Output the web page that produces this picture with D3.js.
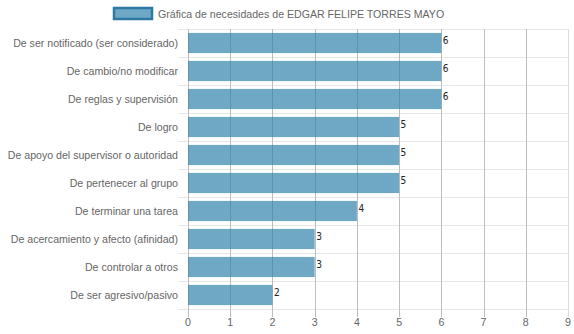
<!DOCTYPE html>
<html><head><meta charset="utf-8">
<script src="https://cdn.jsdelivr.net/npm/d3@7"></script>
<style>body{margin:0;background:#fff}svg{display:block}text{font-family:"Liberation Sans",Arial,sans-serif}</style>
</head><body>
<svg id="c" width="574" height="334"></svg>
<script>
const categories = ["De ser notificado (ser considerado)","De cambio/no modificar","De reglas y supervisión","De logro","De apoyo del supervisor o autoridad","De pertenecer al grupo","De terminar una tarea","De acercamiento y afecto (afinidad)","De controlar a otros","De ser agresivo/pasivo"];
const values = [6,6,6,5,5,5,4,3,3,2];
const xTicks = [0,1,2,3,4,5,6,7,8,9];
const seriesName = "Gráfica de necesidades de EDGAR FELIPE TORRES MAYO";

const svg = d3.select("#c");
const L = 188, R = 568, T = 29, B = 309;
const FS = 10.6;
const x = d3.scaleLinear().domain([0,9]).range([L,R]);
const y = d3.scaleBand().domain(categories).range([T,B]).paddingInner(0).paddingOuter(0);
const barH = y.bandwidth()*0.72;

// horizontal grid lines (category boundaries)
const bounds = categories.map(c=>y(c)).concat([B]);
svg.append("g").selectAll("line").data(bounds).join("line")
  .attr("x1",L-10).attr("x2",R).attr("y1",d=>Math.round(d)+0.5).attr("y2",d=>Math.round(d)+0.5)
  .attr("stroke","#e6e6e6").attr("stroke-width",1);

// vertical grid lines
svg.append("g").selectAll("line").data(xTicks).join("line")
  .attr("x1",d=>Math.round(x(d))+0.5).attr("x2",d=>Math.round(x(d))+0.5)
  .attr("y1",T).attr("y2",B+8)
  .attr("stroke",d=>d===9?"#dcdcdc":"#bdbdbd").attr("stroke-width",1);

// bars
svg.append("g").selectAll("rect").data(values).join("rect")
  .attr("x",x(0)).attr("y",(d,i)=>y(categories[i])+(y.bandwidth()-barH)/2)
  .attr("width",d=>x(d)-x(0)).attr("height",barH)
  .attr("fill","rgba(48,131,171,0.7)");

// value labels
svg.append("g").selectAll("text").data(values).join("text")
  .attr("x",d=>x(d)+1.5).attr("y",(d,i)=>y(categories[i])+y.bandwidth()/2-2)
  .attr("dominant-baseline","middle").attr("font-size",10).attr("fill","#222")
  .style("font-family","'DejaVu Sans Condensed','DejaVu Sans',sans-serif")
  .text(d=>d);

// y labels
svg.append("g").selectAll("text").data(categories).join("text")
  .attr("x",L-10).attr("y",d=>y(d)+y.bandwidth()/2)
  .attr("text-anchor","end").attr("dominant-baseline","central")
  .attr("font-size",FS).attr("fill","#666").text(d=>d);

// x labels
svg.append("g").selectAll("text").data(xTicks).join("text")
  .attr("x",d=>x(d)).attr("y",B+13).attr("text-anchor","middle").attr("dominant-baseline","central")
  .attr("font-size",FS).attr("fill","#666").text(d=>d);

// legend
svg.append("rect").attr("x",114).attr("y",8).attr("width",38).attr("height",11)
  .attr("fill","rgba(48,131,171,0.7)").attr("stroke","#2e78a4").attr("stroke-width",2.5);
svg.append("text").attr("x",158).attr("y",13.5).attr("dominant-baseline","central")
  .attr("font-size",FS).attr("fill","#666").text(seriesName);
</script>
</body></html>
